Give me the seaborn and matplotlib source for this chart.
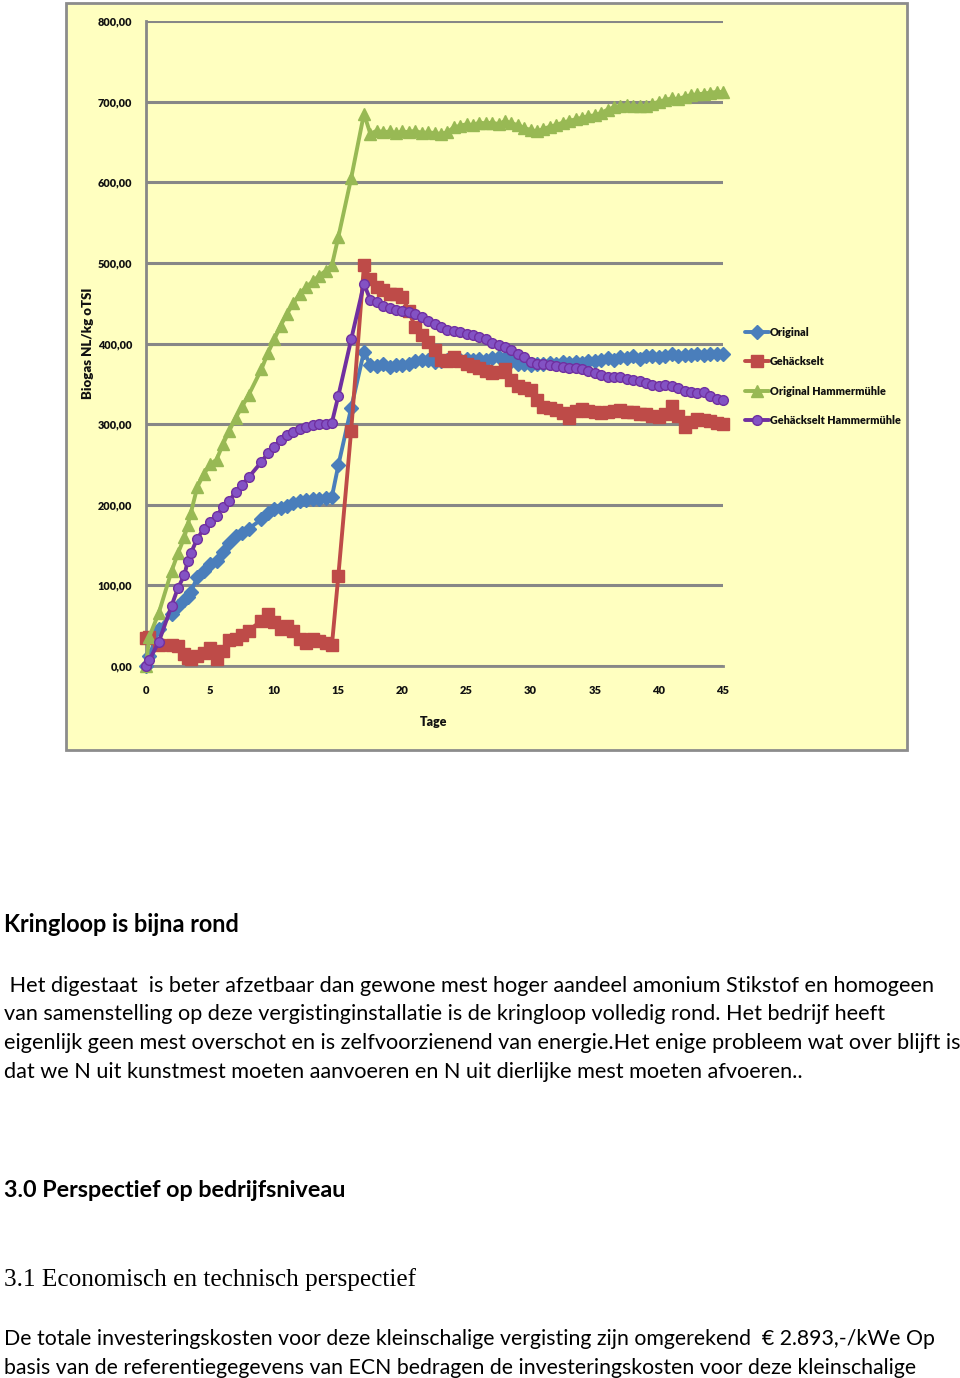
import matplotlib
matplotlib.use("Agg")
import matplotlib.pyplot as plt
from matplotlib.patches import Rectangle
import seaborn as sns
import pandas as pd

# ---------------- data ----------------
days = [0, 0.25, 1, 2, 2.5, 3, 3.25, 3.5, 4, 4.5, 5, 5.5, 6, 6.5, 7, 7.5, 8,
        9, 9.5, 10, 10.5, 11, 11.5, 12, 12.5, 13, 13.5, 14, 14.5, 15, 16, 17,
        17.5, 18, 18.5, 19, 19.5, 20, 20.5, 21, 21.5, 22, 22.5, 23, 23.5, 24, 24.5, 25,
        25.5, 26, 26.5, 27, 27.5, 28, 28.5, 29, 29.5, 30, 30.5, 31, 31.5, 32, 32.5, 33,
        33.5, 34, 34.5, 35, 35.5, 36, 36.5, 37, 37.5, 38, 38.5, 39, 39.5, 40, 40.5, 41,
        41.5, 42, 42.5, 43, 43.5, 44, 44.5, 45]

original = [0, 12, 46, 65, 74, 82, 86, 92, 110, 118, 127, 130, 142, 153, 161, 165, 170,
            182, 190, 195, 196, 199, 202, 205, 206, 207, 207, 208, 210, 249, 320, 390,
            373, 372, 374, 371, 373, 373, 375, 378, 379, 380, 377, 378, 379, 380, 379, 381,
            380, 381, 380, 382, 383, 382, 378, 375, 374, 373, 375, 374, 376, 375, 377, 376,
            377, 376, 378, 378, 380, 382, 380, 383, 382, 384, 381, 384, 384, 383, 385, 387,
            385, 386, 386, 387, 386, 387, 387, 387]

gehackselt = [35, 36, 26, 26, 25, 15, 10, 9, 12, 16, 22, 9, 18, 32, 34, 38, 44,
              56, 64, 55, 46, 50, 44, 34, 28, 34, 31, 28, 26, 112, 292, 497,
              480, 470, 466, 462, 462, 458, 440, 420, 410, 402, 392, 380, 378, 383, 378, 374,
              372, 369, 366, 363, 365, 368, 355, 347, 345, 342, 330, 321, 320, 317, 314, 308,
              316, 319, 316, 315, 314, 315, 316, 317, 315, 315, 313, 312, 310, 309, 312, 322,
              310, 296, 303, 306, 305, 304, 302, 300]

original_hm = [0, 36, 66, 118, 140, 160, 175, 190, 222, 238, 250, 256, 275, 292, 308, 322, 336,
               368, 388, 405, 422, 437, 450, 462, 470, 477, 484, 490, 497, 532, 605, 685,
               660, 664, 662, 663, 661, 663, 662, 664, 661, 662, 661, 660, 662, 668, 670, 672,
               671, 674, 673, 674, 672, 676, 673, 671, 667, 665, 663, 666, 669, 671, 674, 676,
               678, 680, 682, 683, 686, 690, 693, 695, 696, 694, 695, 694, 697, 700, 702, 704,
               703, 706, 708, 709, 710, 711, 712, 712]

gehackselt_hm = [0, 7, 30, 75, 97, 113, 130, 140, 158, 170, 179, 186, 197, 205, 216, 225, 234,
                 253, 264, 272, 280, 286, 290, 294, 297, 299, 300, 300, 302, 335, 405, 474,
                 454, 451, 447, 444, 441, 440, 439, 437, 433, 428, 424, 420, 417, 416, 414, 412,
                 410, 408, 405, 401, 398, 396, 392, 387, 383, 377, 375, 374, 373, 372, 371, 370,
                 369, 368, 366, 363, 361, 359, 358, 358, 356, 355, 353, 351, 348, 347, 348, 347,
                 345, 341, 340, 339, 340, 335, 331, 330]

series_names = ["Original", "Gehäckselt", "Original Hammermühle", "Gehäckselt Hammermühle"]
series_values = [original, gehackselt, original_hm, gehackselt_hm]

xticks = [0, 5, 10, 15, 20, 25, 30, 35, 40, 45]
yticks = [0, 100, 200, 300, 400, 500, 600, 700, 800]
ytick_labels = ["0,00", "100,00", "200,00", "300,00", "400,00", "500,00", "600,00", "700,00", "800,00"]

x_label = "Tage"
y_label = "Biogas NL/kg oTSI"

heading1 = "Kringloop is bijna rond"
para1 = [" Het digestaat  is beter afzetbaar dan gewone mest hoger aandeel amonium Stikstof en homogeen",
         "van samenstelling op deze vergistinginstallatie is de kringloop volledig rond. Het bedrijf heeft",
         "eigenlijk geen mest overschot en is zelfvoorzienend van energie.Het enige probleem wat over blijft is",
         "dat we N uit kunstmest moeten aanvoeren en N uit dierlijke mest moeten afvoeren.."]
heading2 = "3.0 Perspectief op bedrijfsniveau"
heading3 = "3.1 Economisch en technisch perspectief"
para2 = ["De totale investeringskosten voor deze kleinschalige vergisting zijn omgerekend  € 2.893,-/kWe Op",
         "basis van de referentiegegevens van ECN bedragen de investeringskosten voor deze kleinschalige"]

for vals in series_values:
    assert len(vals) == len(days)

# ---------------- style ----------------
sns.set_style("white")
chart_font = ["Lato", "DejaVu Sans"]
body_font = ["Lato", "DejaVu Sans"]
serif_font = ["Liberation Serif", "DejaVu Serif"]
plt.rcParams["font.family"] = body_font

W, H = 960, 1378
fig = plt.figure(figsize=(W / 100, H / 100), dpi=100)
fig.patch.set_facecolor("white")

def fx(px):
    return px / W

def fy(py):
    return 1 - py / H

# chart background box
bg = Rectangle((fx(66), fy(750)), fx(907) - fx(66), fy(3) - fy(750),
               transform=fig.transFigure, facecolor="#FFFFC0", edgecolor="#8C8C8C",
               linewidth=2, zorder=-5)
fig.patches.append(bg)

ax = fig.add_axes([fx(146), fy(666), fx(723) - fx(146), fy(21) - fy(666)])
ax.set_facecolor("none")
ax.set_zorder(2)

grid_col = "#878787"
colors = ["#4A7EBB", "#BE4B48", "#98B954", "#7030A0"]
markers = ["D", "s", "^", "o"]
msizes = [7.5, 9, 8.5, 7]
mfcs = ["#4A7EBB", "#BE4B48", "#98B954", "#8352C4"]

rows = []
for name, vals in zip(series_names, series_values):
    for d, v in zip(days, vals):
        rows.append({"Tage": d, "Biogas": v, "Serie": name})
df = pd.DataFrame(rows)

for name, col, mk, ms, mfc in zip(series_names, colors, markers, msizes, mfcs):
    sub = df[df["Serie"] == name]
    sns.lineplot(data=sub, x="Tage", y="Biogas", ax=ax, color=col, marker=mk,
                 markersize=ms, markerfacecolor=mfc, markeredgecolor=col,
                 markeredgewidth=1, linewidth=2.8, label=name, clip_on=False,
                 zorder=3, sort=False)

ax.set_xlim(0, 45)
ax.set_ylim(0, 800)
ax.set_xticks(xticks)
ax.set_xticklabels([str(t) for t in xticks])
ax.set_yticks(yticks)
ax.set_yticklabels(ytick_labels)
ax.set_xlabel("")
ax.set_ylabel("")

ax.yaxis.grid(True, color=grid_col, linewidth=2.2)
ax.xaxis.grid(False)
ax.set_axisbelow(True)
for s in ["top", "right"]:
    ax.spines[s].set_visible(False)
for s in ["left", "bottom"]:
    ax.spines[s].set_color(grid_col)
    ax.spines[s].set_linewidth(2)

ax.tick_params(axis="x", direction="out", length=5, width=1.5, color=grid_col, pad=9,
               labelsize=8, labelcolor="#111111")
ax.tick_params(axis="y", direction="out", length=3, width=1.5, color=grid_col, pad=7,
               labelsize=7.8, labelcolor="#111111")
for lab in ax.get_xticklabels() + ax.get_yticklabels():
    lab.set_family(chart_font)
    lab.set_fontweight("heavy")

fig.text(fx(434), fy(722), x_label, ha="center", va="center", fontsize=9,
         family=chart_font, fontweight="heavy", color="#111111")
fig.text(fx(88), fy(343), y_label, ha="center", va="center", fontsize=9.5,
         family=chart_font, fontweight="heavy", rotation=90, color="#111111")

leg = ax.legend(loc="center left", bbox_to_anchor=(fx(745), fy(376.5)),
                bbox_transform=fig.transFigure, frameon=False, borderpad=0,
                borderaxespad=0, handlelength=2.2, handletextpad=0.1,
                labelspacing=1.7, prop={"family": chart_font, "weight": "heavy", "size": 7.8})
for t in leg.get_texts():
    t.set_color("#111111")

# ---------------- text below chart ----------------
renderer = fig.canvas.get_renderer()

def fitted_size(s, target_w, family, weight):
    t = fig.text(0, 0, s, fontsize=10, family=family, fontweight=weight)
    w = t.get_window_extent(renderer).width
    t.remove()
    return 10 * target_w / w

def put(s, x, ybase, size, family, weight="normal"):
    fig.text(fx(x), fy(ybase), s, fontsize=size, family=family, fontweight=weight,
             ha="left", va="baseline", color="black")

sz_h1 = fitted_size(heading1, 236, body_font, "bold")
put(heading1, 4, 932, sz_h1, body_font, "bold")

sz_p1 = fitted_size(para1[2], 954, body_font, "normal")
for i, line in enumerate(para1):
    put(line, 4, 992 + 28.5 * i, sz_p1, body_font)

sz_h2 = fitted_size(heading2, 344, body_font, "bold")
put(heading2, 4, 1197, sz_h2, body_font, "bold")

sz_h3 = fitted_size(heading3, 411, serif_font, "normal")
put(heading3, 4, 1286, sz_h3, serif_font)

sz_p2 = fitted_size(para2[0], 929, body_font, "normal")
for i, line in enumerate(para2):
    put(line, 4, 1345 + 28.5 * i, sz_p2, body_font)

fig.savefig("out.png", dpi=100, facecolor="white")
